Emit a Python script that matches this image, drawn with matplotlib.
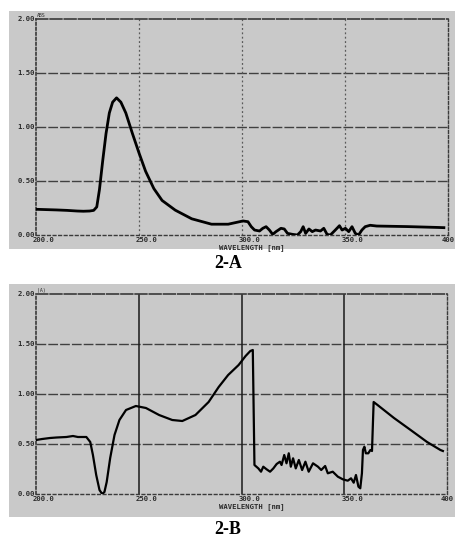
import matplotlib
matplotlib.use("Agg")
import matplotlib.pyplot as plt
from matplotlib.patches import Rectangle
from matplotlib.transforms import offset_copy

# ---------------- data ----------------
a_nm = [200, 205, 210, 215, 220, 223, 226, 228, 229.5, 230.8, 232.4, 234, 235.6, 237.2, 239.1,
        241.2, 243.6, 246.8, 250, 253.2, 257.2, 261.2, 267.6, 275.6, 285.2, 293.3, 300.5, 302.9,
        304.5, 306.1, 308.5, 310.1, 311.7, 313.3, 314.9, 316.5, 318.9, 320.5, 322.1, 324.5,
        326.9, 328.5, 329.7, 330.9, 332.5, 334.1, 335.7, 338.1, 339.7, 341.3, 342.9, 345.3,
        347.3, 348.6, 350.2, 351.8, 353.4, 355.0, 356.6, 358.2, 359.8, 362.2, 365.4, 380, 395,
        398]
a_abs = [0.238, 0.235, 0.232, 0.228, 0.222, 0.22, 0.222, 0.228, 0.26, 0.42, 0.69, 0.94, 1.13,
         1.23, 1.27, 1.23, 1.13, 0.94, 0.76, 0.59, 0.43, 0.32, 0.23, 0.15, 0.10, 0.10, 0.13,
         0.123, 0.077, 0.046, 0.037, 0.062, 0.077, 0.046, 0.006, 0.031, 0.062, 0.056, 0.015,
         0.006, 0.0, 0.031, 0.077, 0.015, 0.056, 0.031, 0.046, 0.037, 0.062, 0.006, 0.0, 0.046,
         0.086, 0.046, 0.062, 0.031, 0.077, 0.015, 0.0, 0.046, 0.077, 0.09, 0.083, 0.078, 0.07,
         0.068]

b_nm = [200, 203, 206.8, 210, 214.8, 218, 220.4, 224.5, 226.4, 227.7, 229.3, 230.9, 232.2,
        233.3, 234.4, 236.1, 238.2, 240.6, 243.8, 248.6, 253.5, 259.9, 266.3, 271.2, 277.6,
        284, 288.9, 293.5, 298.6, 302, 304.3, 305.5, 306.3, 308.2, 309.5, 310.6, 312.2, 313.9,
        315.5, 317.1, 318.7, 319.5, 320.8, 321.9, 323.0, 324.0, 325.1, 326.4, 327.9, 329.5,
        331.1, 332.7, 334.8, 337.2, 338.8, 340.7, 342.0, 344.4, 346.9, 349.3, 351.7, 353.3,
        354.6, 355.7, 356.9, 357.8, 358.6, 359.1, 359.8, 360.5, 361.7, 362.7, 363.5, 364.3,
        366.2, 374.2, 382.3, 390.3, 396.8, 398]
b_abs = [0.54, 0.55, 0.56, 0.565, 0.57, 0.58, 0.57, 0.57, 0.52, 0.39, 0.19, 0.04, 0.0, 0.02,
         0.12, 0.36, 0.59, 0.74, 0.84, 0.88, 0.86, 0.79, 0.74, 0.73, 0.79, 0.92, 1.07, 1.19,
         1.29, 1.38, 1.43, 1.44, 0.29, 0.256, 0.223, 0.273, 0.247, 0.223, 0.256, 0.30, 0.323,
         0.29, 0.39, 0.307, 0.407, 0.273, 0.357, 0.256, 0.34, 0.24, 0.323, 0.223, 0.307, 0.273,
         0.24, 0.28, 0.207, 0.223, 0.173, 0.147, 0.133, 0.157, 0.113, 0.19, 0.073, 0.057,
         0.207, 0.44, 0.473, 0.407, 0.407, 0.44, 0.43, 0.92, 0.89, 0.76, 0.64, 0.52, 0.44,
         0.43]

x_ticks = [200, 250, 300, 350, 400]
x_ticklabels = ["200.0", "250.0", "300.0", "350.0", "400"]
y_ticks = [0.0, 0.5, 1.0, 1.5, 2.0]
y_ticklabels = ["0.00", "0.50", "1.00", "1.50", "2.00"]
panel_labels = ["2-A", "2-B"]
xlabel_text = "WAVELENGTH [nm]"

# ---------------- layout ----------------
W, H = 455, 542
fig = plt.figure(figsize=(W / 100, H / 100), dpi=100)
fig.patch.set_facecolor("white")
GREY = "#c9c9c9"
INK = "#2a2a2a"


def fr(x0, y0, x1, y1):
    """pixel box (top-left origin) -> figure fraction [l, b, w, h]"""
    return [x0 / W, 1 - y1 / H, (x1 - x0) / W, (y1 - y0) / H]


def panel(bg_box, ax_box, xs, ys, vsolid, lw, unit, label, label_y):
    l, b, w, h = fr(*bg_box)
    fig.patches.append(Rectangle((l, b), w, h, transform=fig.transFigure,
                                 facecolor=GREY, edgecolor="none", zorder=-5))
    ax = fig.add_axes(fr(*ax_box))
    ax.set_zorder(2)
    ax.set_facecolor(GREY)
    ax.plot(xs, ys, color="black", lw=lw, solid_joinstyle="round", zorder=5)
    ax.set_xlim(200, 400)
    ax.set_ylim(0, 2.0)
    # grid
    for yv in [0.5, 1.0, 1.5]:
        ax.axhline(yv, color="#404040", lw=1.0, ls=(0, (7, 1.5)), zorder=2)
    for xv in [250, 300, 350]:
        if vsolid:
            ax.axvline(xv, color="#1a1a1a", lw=1.1, zorder=2)
        else:
            ax.axvline(xv, color="#5a5a5a", lw=0.9, ls=(0, (1.5, 2)), zorder=2)
    ax.spines["top"].set_linestyle((0, (7, 1.5)))
    ax.spines["top"].set_color("#3a3a3a")
    ax.spines["top"].set_linewidth(1.2)
    ax.spines["bottom"].set_linestyle((0, (2, 2)))
    ax.spines["bottom"].set_color("#3a3a3a")
    ax.spines["bottom"].set_linewidth(1.0)
    ax.spines["left"].set_linestyle((0, (1.5, 1.5)))
    ax.spines["left"].set_color("#3a3a3a")
    ax.spines["left"].set_linewidth(1.2)
    ax.spines["right"].set_linestyle((0, (2, 1.5)))
    ax.spines["right"].set_color("#3a3a3a")
    ax.spines["right"].set_linewidth(1.0)
    ax.set_xticks(x_ticks)
    ax.set_yticks(y_ticks)
    ax.set_xticklabels([])
    ax.set_yticklabels([])
    ax.tick_params(length=0)
    tfont = dict(family="DejaVu Sans Mono", fontsize=5.2, fontweight="bold", color=INK)
    for xv, s in zip(x_ticks, x_ticklabels):
        if xv == 400:
            xt = offset_copy(ax.transData, fig=fig, x=7, y=-2, units="dots")
            ax.text(xv, 0, s, transform=xt, ha="right", va="top", clip_on=False, **tfont)
        else:
            xt = offset_copy(ax.transData, fig=fig, x=8, y=-2, units="dots")
            ax.text(xv, 0, s, transform=xt, ha="center", va="top", clip_on=False, **tfont)
    ytr = offset_copy(ax.transData, fig=fig, x=-1, y=0, units="dots")
    for yv, s in zip(y_ticks, y_ticklabels):
        ax.text(200, yv, s, transform=ytr, ha="right", va="center", clip_on=False, **tfont)
    ax.text(0.003, 1.005, unit, transform=ax.transAxes, ha="left", va="bottom",
            family="DejaVu Sans Mono", fontsize=3.5, color=INK)
    ax.text(300, 0, xlabel_text,
            transform=offset_copy(ax.transData, fig=fig, x=10, y=-9, units="dots"),
            ha="center", va="top", clip_on=False, **tfont)
    fig.text(228 / W, 1 - label_y / H, label, ha="center", va="center",
             family="Liberation Serif", fontsize=13, fontweight="bold", color="black")
    return ax


panel((9, 11, 455, 249), (36, 19, 448, 235), a_nm, a_abs, False, 2.0, "ABS", panel_labels[0], 263)
panel((9, 284, 455, 517), (36, 294, 447, 494), b_nm, b_abs, True, 1.6, "(A)", panel_labels[1], 530)

fig.savefig("out.png", dpi=100, facecolor="white")
